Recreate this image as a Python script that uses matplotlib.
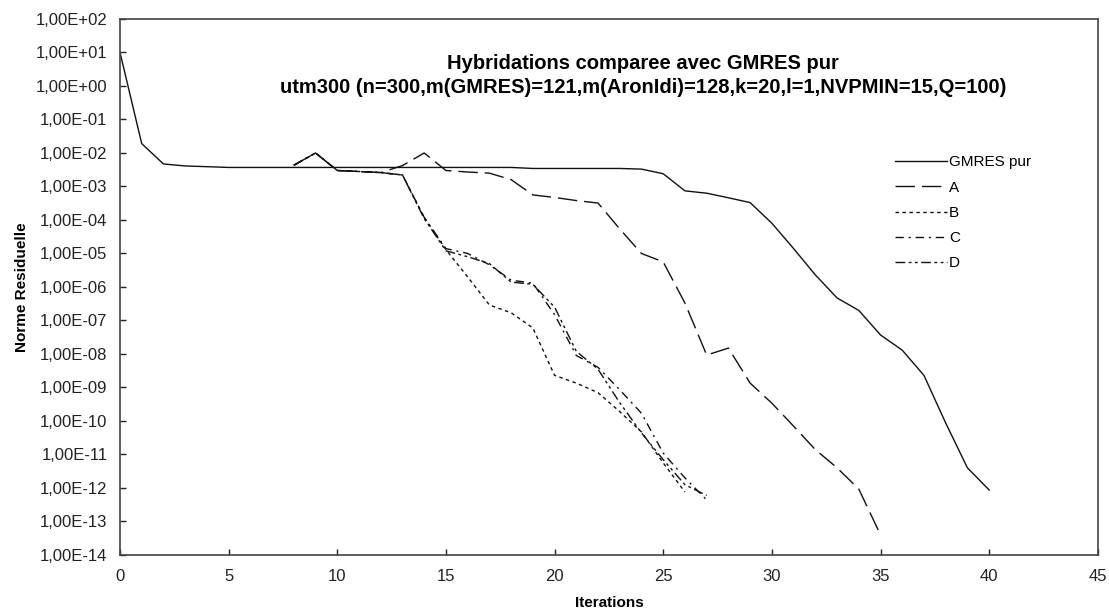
import matplotlib
matplotlib.use('Agg')
import matplotlib.pyplot as plt
from matplotlib.ticker import FuncFormatter, LogLocator, NullLocator, MultipleLocator

plt.rcParams['font.family'] = ['Liberation Sans', 'DejaVu Sans']

# Data
gmres_it = list(range(0, 41))
gmres = [10, 1.9e-2, 4.7e-3, 4.1e-3, 3.9e-3,
         3.7e-3, 3.7e-3, 3.7e-3, 3.7e-3, 3.7e-3, 3.7e-3, 3.7e-3,
         3.7e-3, 3.7e-3, 3.7e-3, 3.7e-3, 3.7e-3, 3.7e-3, 3.7e-3,
         3.45e-3, 3.45e-3, 3.45e-3, 3.45e-3, 3.45e-3, 3.3e-3,
         2.4e-3, 7.4e-4, 6.3e-4, 4.6e-4, 3.3e-4, 8e-5, 1.4e-5,
         2.3e-6, 4.7e-7, 2e-7, 3.7e-8, 1.3e-8, 2.3e-9, 8.7e-11,
         4e-12, 8.7e-13]

a_it = list(range(8, 36))
a_vals = [4.3e-3, 1.0e-2, 3.0e-3, 2.8e-3, 2.6e-3, 4.2e-3, 1.0e-2,
          3.0e-3, 2.7e-3, 2.5e-3, 1.6e-3, 5.6e-4, 4.7e-4, 3.8e-4,
          3.2e-4, 5.4e-5, 1.0e-5, 5.6e-6, 3.3e-7, 9.3e-9, 1.5e-8,
          1.35e-9, 3.4e-10, 7e-11, 1.4e-11, 4e-12, 9.3e-13, 4e-14]

b_it = list(range(8, 27))
b_vals = [4.3e-3, 1.0e-2, 3.0e-3, 2.8e-3, 2.6e-3, 2.2e-3, 1.2e-4,
          1.3e-5, 2e-6, 2.9e-7, 1.7e-7, 6e-8, 2.3e-9, 1.35e-9,
          7e-10, 1.9e-10, 4.7e-11, 5.6e-12, 7.6e-13]

c_it = list(range(8, 28))
c_vals = [4.3e-3, 1.0e-2, 3.0e-3, 2.8e-3, 2.6e-3, 2.2e-3, 1.2e-4,
          1.4e-5, 1.0e-5, 4.6e-6, 1.6e-6, 1.3e-6, 1.5e-7, 9e-9,
          4e-9, 8.5e-10, 1.7e-10, 1.1e-11, 2e-12, 4.4e-13]

d_it = list(range(8, 28))
d_vals = [4.3e-3, 1.0e-2, 3.0e-3, 2.8e-3, 2.6e-3, 2.2e-3, 1.1e-4,
          1.2e-5, 8e-6, 5e-6, 1.4e-6, 1.2e-6, 2.5e-7, 1.2e-8,
          3.5e-9, 3.5e-10, 4.4e-11, 7e-12, 1.25e-12, 6e-13]

fig = plt.figure(figsize=(11.09, 6.14), dpi=100)
ax = fig.add_axes([0.1082, 0.0961, 0.8817, 0.8730])

ax.plot(gmres_it, gmres, color='#111111', lw=1.0, label='GMRES pur')
ax.plot(a_it, a_vals, color='#111111', lw=1.0, linestyle=(0, (14, 5)), label='A')
ax.plot(b_it, b_vals, color='#111111', lw=1.0, linestyle=(0, (2.5, 2.5)), label='B')
ax.plot(c_it, c_vals, color='#111111', lw=1.0, linestyle=(0, (6, 3.5, 1.5, 3.5)), label='C')
ax.plot(d_it, d_vals, color='#111111', lw=1.0, linestyle=(0, (7, 2.5, 2, 2.5, 2, 2.5)), label='D')

ax.set_yscale('log')
ax.set_xlim(0, 45)
ax.set_ylim(1e-14, 1e2)
ax.xaxis.set_major_locator(MultipleLocator(5))
ax.yaxis.set_major_locator(LogLocator(base=10, numticks=20))
ax.yaxis.set_minor_locator(NullLocator())
ax.yaxis.set_major_formatter(FuncFormatter(lambda v, p: f"{v:.2E}".replace('.', ',')))

ax.tick_params(axis='both', direction='in', length=4, width=1, labelsize=12, colors='#222222')
ax.tick_params(axis='y', pad=9)
ax.tick_params(axis='x', pad=10)
for s in ax.spines.values():
    s.set_color('#444444')
    s.set_linewidth(1.2)

ax.set_xlabel('Iterations', fontsize=11, fontweight='bold', labelpad=9)
ax.set_ylabel('Norme Residuelle', fontsize=11, fontweight='bold', labelpad=5)

ax.text(0.535, 0.917, 'Hybridations comparee avec GMRES pur', transform=ax.transAxes,
        ha='center', va='center', fontsize=14.5, fontweight='bold')
ax.text(0.535, 0.873, 'utm300 (n=300,m(GMRES)=121,m(AronIdi)=128,k=20,l=1,NVPMIN=15,Q=100)',
        transform=ax.transAxes, ha='center', va='center', fontsize=14.5, fontweight='bold')

ax.legend(loc='upper left', bbox_to_anchor=(0.785, 0.76), frameon=False, fontsize=11,
          handlelength=3.4, handletextpad=0.12, labelspacing=0.74, borderpad=0)

fig.savefig('out.png', dpi=100)
